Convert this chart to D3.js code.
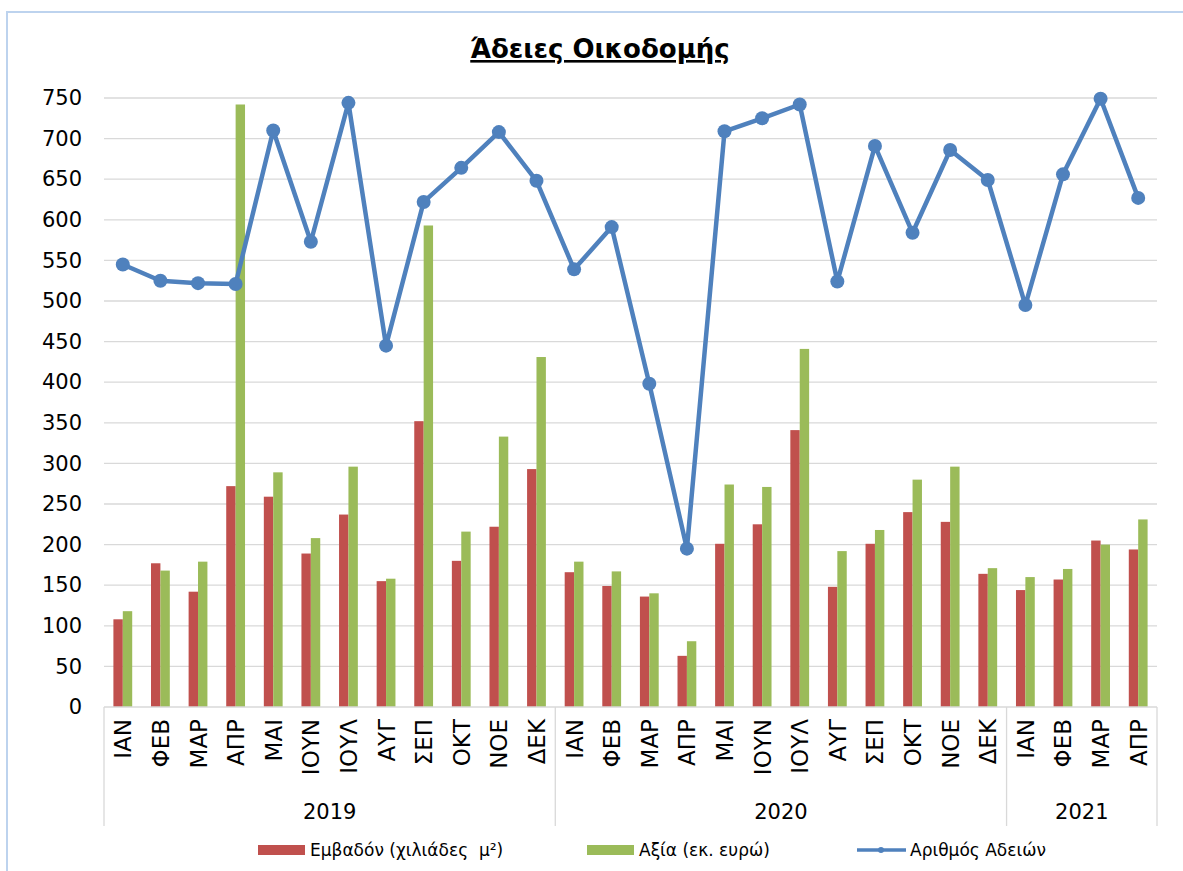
<!DOCTYPE html>
<html>
<head>
<meta charset="utf-8">
<script src="https://cdn.jsdelivr.net/npm/d3@7"></script>
<style>
  body { margin: 0; background: #fff; }
  svg text { font-family: "DejaVu Sans", Verdana, sans-serif; fill: #000; }
</style>
</head>
<body>
<div id="chart"></div>
<script>
// months per year, in order
var months2019 = ["ΙΑΝ","ΦΕΒ","ΜΑΡ","ΑΠΡ","ΜΑΙ","ΙΟΥΝ","ΙΟΥΛ","ΑΥΓ","ΣΕΠ","ΟΚΤ","ΝΟΕ","ΔΕΚ"];
var months2020 = ["ΙΑΝ","ΦΕΒ","ΜΑΡ","ΑΠΡ","ΜΑΙ","ΙΟΥΝ","ΙΟΥΛ","ΑΥΓ","ΣΕΠ","ΟΚΤ","ΝΟΕ","ΔΕΚ"];
var months2021 = ["ΙΑΝ","ΦΕΒ","ΜΑΡ","ΑΠΡ"];
var years = ["2019", "2020", "2021"];

// Εμβαδόν (χιλιάδες μ²)
var area = [108, 177, 142, 272, 259, 189, 237, 155, 352, 180, 222, 293,
            166, 149, 136, 63, 201, 225, 341, 148, 201, 240, 228, 164,
            144, 157, 205, 194];
// Αξία (εκ. ευρώ)
var value = [118, 168, 179, 742, 289, 208, 296, 158, 593, 216, 333, 431,
             179, 167, 140, 81, 274, 271, 441, 192, 218, 280, 296, 171,
             160, 170, 200, 231];
// Αριθμός Αδειών
var permits = [545, 525, 522, 521, 710, 573, 744, 445, 622, 664, 708, 648,
               539, 591, 398, 195, 709, 725, 742, 524, 691, 584, 686, 649,
               495, 656, 749, 627];

var yTicks = [0, 50, 100, 150, 200, 250, 300, 350, 400, 450, 500, 550, 600, 650, 700, 750];

var seriesNames = ["Εμβαδόν (χιλιάδες  μ²)", "Αξία (εκ. ευρώ)", "Αριθμός Αδειών"];
var colors = ["#C0504D", "#9BBB59", "#4F81BD"];

var W = 1183, H = 871;
var plotLeft = 104, plotRight = 1157, plotTop = 98, plotBottom = 707;

var groups = [months2019, months2020, months2021];
var cats = [];
groups.forEach(function(g, gi) {
  g.forEach(function(m) { cats.push({ month: m, year: years[gi], key: years[gi] + "-" + m }); });
});

var svg = d3.select("#chart").append("svg")
  .attr("width", W)
  .attr("height", H);

// outer chart border
svg.append("rect")
  .attr("x", 7).attr("y", 12)
  .attr("width", W).attr("height", H)
  .attr("fill", "none")
  .attr("stroke", "#BDD3EE")
  .attr("stroke-width", 2);

var x = d3.scaleBand()
  .domain(cats.map(function(d) { return d.key; }))
  .range([plotLeft, plotRight])
  .paddingInner(0)
  .paddingOuter(0);

// two bars per month, half the band left empty
var x1 = d3.scaleBand()
  .domain([0, 1])
  .range([0, x.bandwidth()])
  .paddingOuter(1)
  .paddingInner(0);

var y = d3.scaleLinear()
  .domain([0, 750])
  .range([plotBottom, plotTop]);

// gridlines
svg.append("g")
  .selectAll("line")
  .data(yTicks.slice(1))
  .enter().append("line")
    .attr("x1", plotLeft).attr("x2", plotRight)
    .attr("y1", function(d) { return y(d); })
    .attr("y2", function(d) { return y(d); })
    .attr("stroke", "#D9D9D9")
    .attr("stroke-width", 1.3);

// y axis labels
var yAxis = svg.append("g")
  .attr("transform", "translate(" + (plotLeft - 22) + ",0)")
  .call(d3.axisLeft(y).tickValues(yTicks).tickSize(0).tickPadding(0));
yAxis.select(".domain").remove();
yAxis.selectAll("text")
  .attr("font-size", 21)
  .attr("fill", "#000")
  .style("font-family", "DejaVu Sans, Verdana, sans-serif");

// bars
var barData = [area, value];
barData.forEach(function(series, si) {
  svg.append("g")
    .selectAll("rect")
    .data(series)
    .enter().append("rect")
      .attr("x", function(d, i) { return x(cats[i].key) + x1(si); })
      .attr("y", function(d) { return y(d); })
      .attr("width", x1.bandwidth())
      .attr("height", function(d) { return plotBottom - y(d); })
      .attr("fill", colors[si]);
});

// x axis baseline
svg.append("line")
  .attr("x1", plotLeft).attr("x2", plotRight)
  .attr("y1", plotBottom).attr("y2", plotBottom)
  .attr("stroke", "#D9D9D9")
  .attr("stroke-width", 1.3);

// group separators
var sepIdx = [0];
var acc = 0;
groups.forEach(function(g) { acc += g.length; sepIdx.push(acc); });
svg.append("g")
  .selectAll("line")
  .data(sepIdx)
  .enter().append("line")
    .attr("x1", function(i) { return i < cats.length ? x(cats[i].key) : plotRight; })
    .attr("x2", function(i) { return i < cats.length ? x(cats[i].key) : plotRight; })
    .attr("y1", plotBottom).attr("y2", 826)
    .attr("stroke", "#D9D9D9")
    .attr("stroke-width", 1.3);

// month labels (rotated)
svg.append("g")
  .selectAll("text")
  .data(cats)
  .enter().append("text")
    .attr("transform", function(d) {
      return "translate(" + (x(d.key) + x.bandwidth() / 2 + 8.5) + "," + (plotBottom + 12) + ") rotate(-90)";
    })
    .attr("text-anchor", "end")
    .attr("font-size", 23)
    .text(function(d) { return d.month; });

// year labels
svg.append("g")
  .selectAll("text")
  .data(years)
  .enter().append("text")
    .attr("x", function(yr, gi) {
      var a = x(cats[sepIdx[gi]].key);
      var b = sepIdx[gi + 1] < cats.length ? x(cats[sepIdx[gi + 1]].key) : plotRight;
      return (a + b) / 2;
    })
    .attr("y", 819)
    .attr("text-anchor", "middle")
    .attr("font-size", 21)
    .text(function(d) { return d; });

// line series
var line = d3.line()
  .x(function(d, i) { return x(cats[i].key) + x.bandwidth() / 2; })
  .y(function(d) { return y(d); });

svg.append("path")
  .datum(permits)
  .attr("d", line)
  .attr("fill", "none")
  .attr("stroke", colors[2])
  .attr("stroke-width", 4.5)
  .attr("stroke-linejoin", "round");

svg.append("g")
  .selectAll("circle")
  .data(permits)
  .enter().append("circle")
    .attr("cx", function(d, i) { return x(cats[i].key) + x.bandwidth() / 2; })
    .attr("cy", function(d) { return y(d); })
    .attr("r", 7)
    .attr("fill", colors[2]);

// title
svg.append("text")
  .attr("x", 600)
  .attr("y", 58)
  .attr("text-anchor", "middle")
  .attr("font-size", 26)
  .attr("font-weight", "bold")
  .attr("text-decoration", "underline")
  .text("Άδειες Οικοδομής");

// legend
var legendX = [258, 587, 857];
var lg = svg.append("g");
seriesNames.forEach(function(name, i) {
  if (i < 2) {
    lg.append("rect")
      .attr("x", legendX[i]).attr("y", 845)
      .attr("width", 47).attr("height", 10)
      .attr("fill", colors[i]);
  } else {
    lg.append("line")
      .attr("x1", legendX[i]).attr("x2", legendX[i] + 49)
      .attr("y1", 850).attr("y2", 850)
      .attr("stroke", colors[i]).attr("stroke-width", 3.5);
    lg.append("circle")
      .attr("cx", legendX[i] + 24).attr("cy", 850).attr("r", 3)
      .attr("fill", colors[i]);
  }
  lg.append("text")
    .attr("x", legendX[i] + (i < 2 ? 52 : 53))
    .attr("y", 856)
    .attr("font-size", 17)
    .style("white-space", "pre")
    .text(name);
});
</script>
</body>
</html>
